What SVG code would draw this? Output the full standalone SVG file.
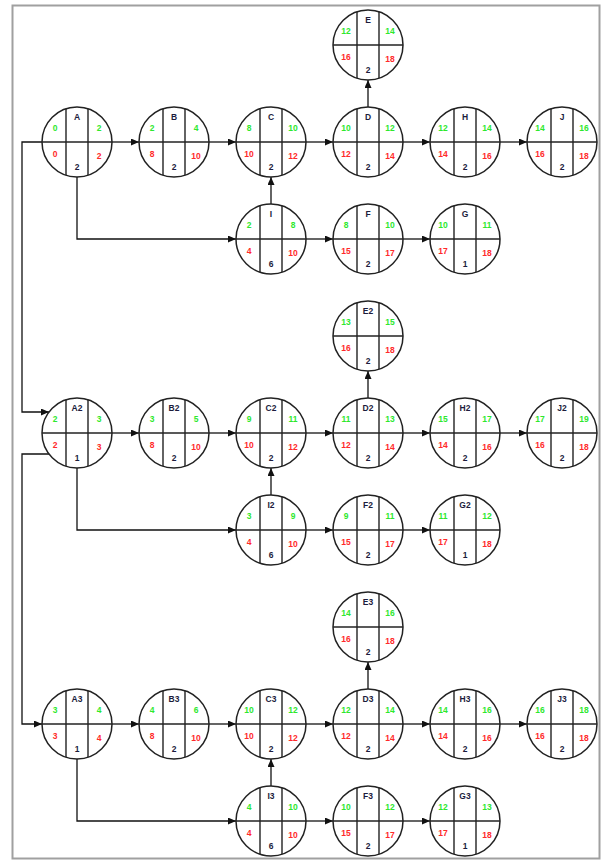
<svg xmlns="http://www.w3.org/2000/svg" xmlns:xlink="http://www.w3.org/1999/xlink" width="605" height="861" viewBox="0 0 605 861">
<style>
.frame{fill:none;stroke:#a0a0a0;stroke-width:2}
.sh circle{fill:#fff;stroke:#222;stroke-width:1.5}
.sh line{stroke:#222;stroke-width:1.4}
.cn{fill:none;stroke:#111;stroke-width:1.3;marker-end:url(#ah)}
.cn0{fill:none;stroke:#111;stroke-width:1.3}
text{font-family:"Liberation Sans",Arial,sans-serif;font-size:8.5px;font-weight:bold;text-anchor:middle}
.n{fill:#1c1c3c}
.g{fill:#2ee82e}
.r{fill:#ff2a2a}
.d{fill:#1c1c3c}
</style>
<defs>
<marker id="ah" markerUnits="userSpaceOnUse" markerWidth="8" markerHeight="7" refX="8" refY="3.5" orient="auto">
<path d="M0,0 L8,3.5 L0,7 z" fill="#111"/>
</marker>
<g id="shape" class="sh">
<circle cx="0" cy="0" r="35"/>
<line x1="-35" y1="0" x2="35" y2="0"/>
<line x1="-11" y1="-33.2" x2="-11" y2="33.2"/>
<line x1="11" y1="-33.2" x2="11" y2="33.2"/>
</g>
</defs>
<rect class="frame" x="12.5" y="5.5" width="587" height="853"/>
<g id="connectors">
<!-- section 1 -->
<line class="cn" x1="112" y1="142" x2="139" y2="142"/>
<line class="cn" x1="209" y1="142" x2="236" y2="142"/>
<line class="cn" x1="306" y1="142" x2="333" y2="142"/>
<line class="cn" x1="403" y1="142" x2="430" y2="142"/>
<line class="cn" x1="500" y1="142" x2="527" y2="142"/>
<line class="cn" x1="368" y1="107" x2="368" y2="80"/>
<line class="cn" x1="271" y1="204" x2="271" y2="177"/>
<path class="cn" d="M77,177 V239 H236"/>
<line class="cn" x1="306" y1="239" x2="333" y2="239"/>
<line class="cn" x1="403" y1="239" x2="430" y2="239"/>
<!-- section 2 -->
<line class="cn" x1="112" y1="433" x2="139" y2="433"/>
<line class="cn" x1="209" y1="433" x2="236" y2="433"/>
<line class="cn" x1="306" y1="433" x2="333" y2="433"/>
<line class="cn" x1="403" y1="433" x2="430" y2="433"/>
<line class="cn" x1="500" y1="433" x2="527" y2="433"/>
<line class="cn" x1="368" y1="398" x2="368" y2="371"/>
<line class="cn" x1="271" y1="495" x2="271" y2="468"/>
<path class="cn" d="M77,468 V530 H236"/>
<line class="cn" x1="306" y1="530" x2="333" y2="530"/>
<line class="cn" x1="403" y1="530" x2="430" y2="530"/>
<!-- section 3 -->
<line class="cn" x1="112" y1="724" x2="139" y2="724"/>
<line class="cn" x1="209" y1="724" x2="236" y2="724"/>
<line class="cn" x1="306" y1="724" x2="333" y2="724"/>
<line class="cn" x1="403" y1="724" x2="430" y2="724"/>
<line class="cn" x1="500" y1="724" x2="527" y2="724"/>
<line class="cn" x1="368" y1="689" x2="368" y2="662"/>
<line class="cn" x1="271" y1="786" x2="271" y2="759"/>
<path class="cn" d="M77,759 V821 H236"/>
<line class="cn" x1="306" y1="821" x2="333" y2="821"/>
<line class="cn" x1="403" y1="821" x2="430" y2="821"/>
<!-- left links -->
<path class="cn" d="M42,142 H22 V412 H49"/>
<path class="cn" d="M49,454 H22 V724 H42"/>
</g>

<g id="node-E" transform="translate(368,45)"><use xlink:href="#shape"/><text class="n" x="0" y="-22">E</text><text class="g" x="-22" y="-11">12</text><text class="g" x="22" y="-11">14</text><text class="r" x="-22" y="15">16</text><text class="r" x="22" y="16.5">18</text><text class="d" x="0" y="28">2</text></g>
<g id="node-A" transform="translate(77,142)"><use xlink:href="#shape"/><text class="n" x="0" y="-22">A</text><text class="g" x="-22" y="-11">0</text><text class="g" x="22" y="-11">2</text><text class="r" x="-22" y="15">0</text><text class="r" x="22" y="16.5">2</text><text class="d" x="0" y="28">2</text></g>
<g id="node-B" transform="translate(174,142)"><use xlink:href="#shape"/><text class="n" x="0" y="-22">B</text><text class="g" x="-22" y="-11">2</text><text class="g" x="22" y="-11">4</text><text class="r" x="-22" y="15">8</text><text class="r" x="22" y="16.5">10</text><text class="d" x="0" y="28">2</text></g>
<g id="node-C" transform="translate(271,142)"><use xlink:href="#shape"/><text class="n" x="0" y="-22">C</text><text class="g" x="-22" y="-11">8</text><text class="g" x="22" y="-11">10</text><text class="r" x="-22" y="15">10</text><text class="r" x="22" y="16.5">12</text><text class="d" x="0" y="28">2</text></g>
<g id="node-D" transform="translate(368,142)"><use xlink:href="#shape"/><text class="n" x="0" y="-22">D</text><text class="g" x="-22" y="-11">10</text><text class="g" x="22" y="-11">12</text><text class="r" x="-22" y="15">12</text><text class="r" x="22" y="16.5">14</text><text class="d" x="0" y="28">2</text></g>
<g id="node-H" transform="translate(465,142)"><use xlink:href="#shape"/><text class="n" x="0" y="-22">H</text><text class="g" x="-22" y="-11">12</text><text class="g" x="22" y="-11">14</text><text class="r" x="-22" y="15">14</text><text class="r" x="22" y="16.5">16</text><text class="d" x="0" y="28">2</text></g>
<g id="node-J" transform="translate(562,142)"><use xlink:href="#shape"/><text class="n" x="0" y="-22">J</text><text class="g" x="-22" y="-11">14</text><text class="g" x="22" y="-11">16</text><text class="r" x="-22" y="15">16</text><text class="r" x="22" y="16.5">18</text><text class="d" x="0" y="28">2</text></g>
<g id="node-I" transform="translate(271,239)"><use xlink:href="#shape"/><text class="n" x="0" y="-22">I</text><text class="g" x="-22" y="-11">2</text><text class="g" x="22" y="-11">8</text><text class="r" x="-22" y="15">4</text><text class="r" x="22" y="16.5">10</text><text class="d" x="0" y="28">6</text></g>
<g id="node-F" transform="translate(368,239)"><use xlink:href="#shape"/><text class="n" x="0" y="-22">F</text><text class="g" x="-22" y="-11">8</text><text class="g" x="22" y="-11">10</text><text class="r" x="-22" y="15">15</text><text class="r" x="22" y="16.5">17</text><text class="d" x="0" y="28">2</text></g>
<g id="node-G" transform="translate(465,239)"><use xlink:href="#shape"/><text class="n" x="0" y="-22">G</text><text class="g" x="-22" y="-11">10</text><text class="g" x="22" y="-11">11</text><text class="r" x="-22" y="15">17</text><text class="r" x="22" y="16.5">18</text><text class="d" x="0" y="28">1</text></g>

<g id="node-E2" transform="translate(368,336)"><use xlink:href="#shape"/><text class="n" x="0" y="-22">E2</text><text class="g" x="-22" y="-11">13</text><text class="g" x="22" y="-11">15</text><text class="r" x="-22" y="15">16</text><text class="r" x="22" y="16.5">18</text><text class="d" x="0" y="28">2</text></g>
<g id="node-A2" transform="translate(77,433)"><use xlink:href="#shape"/><text class="n" x="0" y="-22">A2</text><text class="g" x="-22" y="-11">2</text><text class="g" x="22" y="-11">3</text><text class="r" x="-22" y="15">2</text><text class="r" x="22" y="16.5">3</text><text class="d" x="0" y="28">1</text></g>
<g id="node-B2" transform="translate(174,433)"><use xlink:href="#shape"/><text class="n" x="0" y="-22">B2</text><text class="g" x="-22" y="-11">3</text><text class="g" x="22" y="-11">5</text><text class="r" x="-22" y="15">8</text><text class="r" x="22" y="16.5">10</text><text class="d" x="0" y="28">2</text></g>
<g id="node-C2" transform="translate(271,433)"><use xlink:href="#shape"/><text class="n" x="0" y="-22">C2</text><text class="g" x="-22" y="-11">9</text><text class="g" x="22" y="-11">11</text><text class="r" x="-22" y="15">10</text><text class="r" x="22" y="16.5">12</text><text class="d" x="0" y="28">2</text></g>
<g id="node-D2" transform="translate(368,433)"><use xlink:href="#shape"/><text class="n" x="0" y="-22">D2</text><text class="g" x="-22" y="-11">11</text><text class="g" x="22" y="-11">13</text><text class="r" x="-22" y="15">12</text><text class="r" x="22" y="16.5">14</text><text class="d" x="0" y="28">2</text></g>
<g id="node-H2" transform="translate(465,433)"><use xlink:href="#shape"/><text class="n" x="0" y="-22">H2</text><text class="g" x="-22" y="-11">15</text><text class="g" x="22" y="-11">17</text><text class="r" x="-22" y="15">14</text><text class="r" x="22" y="16.5">16</text><text class="d" x="0" y="28">2</text></g>
<g id="node-J2" transform="translate(562,433)"><use xlink:href="#shape"/><text class="n" x="0" y="-22">J2</text><text class="g" x="-22" y="-11">17</text><text class="g" x="22" y="-11">19</text><text class="r" x="-22" y="15">16</text><text class="r" x="22" y="16.5">18</text><text class="d" x="0" y="28">2</text></g>
<g id="node-I2" transform="translate(271,530)"><use xlink:href="#shape"/><text class="n" x="0" y="-22">I2</text><text class="g" x="-22" y="-11">3</text><text class="g" x="22" y="-11">9</text><text class="r" x="-22" y="15">4</text><text class="r" x="22" y="16.5">10</text><text class="d" x="0" y="28">6</text></g>
<g id="node-F2" transform="translate(368,530)"><use xlink:href="#shape"/><text class="n" x="0" y="-22">F2</text><text class="g" x="-22" y="-11">9</text><text class="g" x="22" y="-11">11</text><text class="r" x="-22" y="15">15</text><text class="r" x="22" y="16.5">17</text><text class="d" x="0" y="28">2</text></g>
<g id="node-G2" transform="translate(465,530)"><use xlink:href="#shape"/><text class="n" x="0" y="-22">G2</text><text class="g" x="-22" y="-11">11</text><text class="g" x="22" y="-11">12</text><text class="r" x="-22" y="15">17</text><text class="r" x="22" y="16.5">18</text><text class="d" x="0" y="28">1</text></g>

<g id="node-E3" transform="translate(368,627)"><use xlink:href="#shape"/><text class="n" x="0" y="-22">E3</text><text class="g" x="-22" y="-11">14</text><text class="g" x="22" y="-11">16</text><text class="r" x="-22" y="15">16</text><text class="r" x="22" y="16.5">18</text><text class="d" x="0" y="28">2</text></g>
<g id="node-A3" transform="translate(77,724)"><use xlink:href="#shape"/><text class="n" x="0" y="-22">A3</text><text class="g" x="-22" y="-11">3</text><text class="g" x="22" y="-11">4</text><text class="r" x="-22" y="15">3</text><text class="r" x="22" y="16.5">4</text><text class="d" x="0" y="28">1</text></g>
<g id="node-B3" transform="translate(174,724)"><use xlink:href="#shape"/><text class="n" x="0" y="-22">B3</text><text class="g" x="-22" y="-11">4</text><text class="g" x="22" y="-11">6</text><text class="r" x="-22" y="15">8</text><text class="r" x="22" y="16.5">10</text><text class="d" x="0" y="28">2</text></g>
<g id="node-C3" transform="translate(271,724)"><use xlink:href="#shape"/><text class="n" x="0" y="-22">C3</text><text class="g" x="-22" y="-11">10</text><text class="g" x="22" y="-11">12</text><text class="r" x="-22" y="15">10</text><text class="r" x="22" y="16.5">12</text><text class="d" x="0" y="28">2</text></g>
<g id="node-D3" transform="translate(368,724)"><use xlink:href="#shape"/><text class="n" x="0" y="-22">D3</text><text class="g" x="-22" y="-11">12</text><text class="g" x="22" y="-11">14</text><text class="r" x="-22" y="15">12</text><text class="r" x="22" y="16.5">14</text><text class="d" x="0" y="28">2</text></g>
<g id="node-H3" transform="translate(465,724)"><use xlink:href="#shape"/><text class="n" x="0" y="-22">H3</text><text class="g" x="-22" y="-11">14</text><text class="g" x="22" y="-11">16</text><text class="r" x="-22" y="15">14</text><text class="r" x="22" y="16.5">16</text><text class="d" x="0" y="28">2</text></g>
<g id="node-J3" transform="translate(562,724)"><use xlink:href="#shape"/><text class="n" x="0" y="-22">J3</text><text class="g" x="-22" y="-11">16</text><text class="g" x="22" y="-11">18</text><text class="r" x="-22" y="15">16</text><text class="r" x="22" y="16.5">18</text><text class="d" x="0" y="28">2</text></g>
<g id="node-I3" transform="translate(271,821)"><use xlink:href="#shape"/><text class="n" x="0" y="-22">I3</text><text class="g" x="-22" y="-11">4</text><text class="g" x="22" y="-11">10</text><text class="r" x="-22" y="15">4</text><text class="r" x="22" y="16.5">10</text><text class="d" x="0" y="28">6</text></g>
<g id="node-F3" transform="translate(368,821)"><use xlink:href="#shape"/><text class="n" x="0" y="-22">F3</text><text class="g" x="-22" y="-11">10</text><text class="g" x="22" y="-11">12</text><text class="r" x="-22" y="15">15</text><text class="r" x="22" y="16.5">17</text><text class="d" x="0" y="28">2</text></g>
<g id="node-G3" transform="translate(465,821)"><use xlink:href="#shape"/><text class="n" x="0" y="-22">G3</text><text class="g" x="-22" y="-11">12</text><text class="g" x="22" y="-11">13</text><text class="r" x="-22" y="15">17</text><text class="r" x="22" y="16.5">18</text><text class="d" x="0" y="28">1</text></g>
</svg>
